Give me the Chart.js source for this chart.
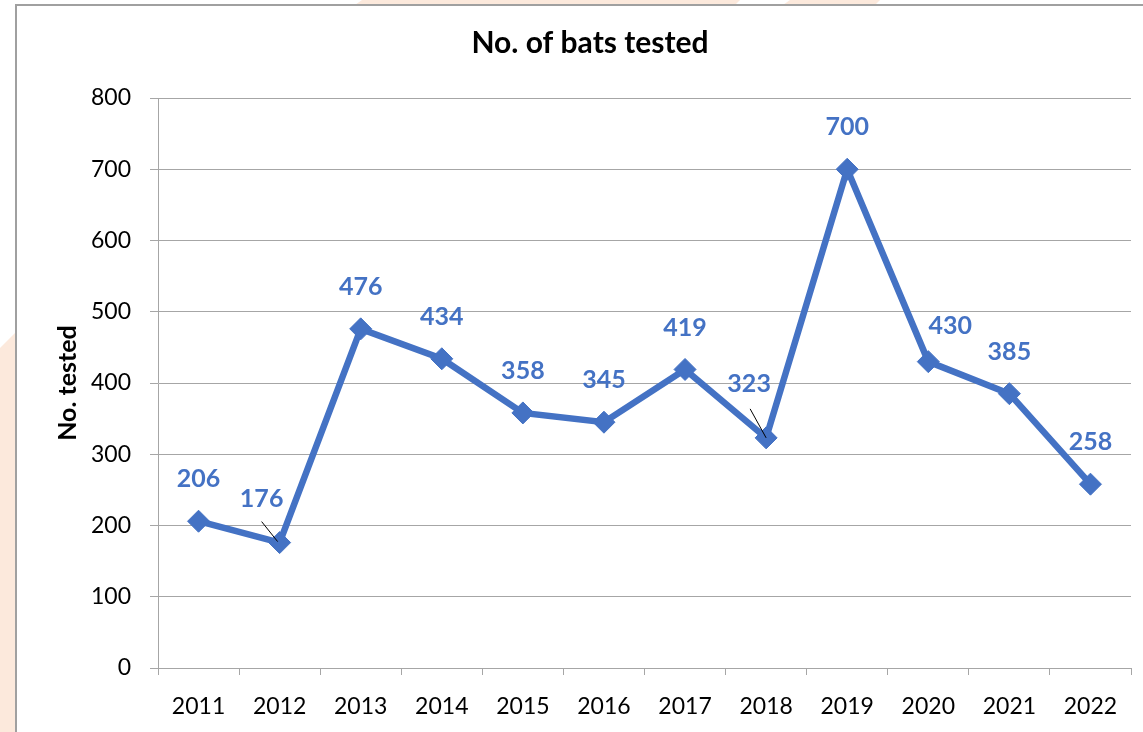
<!DOCTYPE html>
<html>
<head>
<meta charset="utf-8">
<script src="https://cdn.jsdelivr.net/npm/chart.js@4"></script>
<style>
  html, body { margin: 0; padding: 0; background: #ffffff; }
  #wrap { width: 1143px; height: 732px; position: relative; }
</style>
</head>
<body>
<div id="wrap"><canvas id="c" width="1143" height="732"></canvas></div>
<script>
// ---- data ----
const years = ['2011','2012','2013','2014','2015','2016','2017','2018','2019','2020','2021','2022'];
const batsTested = [206, 176, 476, 434, 358, 345, 419, 323, 700, 430, 385, 258];
const yTicks = [0, 100, 200, 300, 400, 500, 600, 700, 800];
const chartTitle = 'No. of bats tested';
const yAxisTitle = 'No. tested';

// ---- styling ----
const BLUE = '#4472C4';
const GRID = '#A6A6A6';
const FONT = 'Lato, "Open Sans", sans-serif';
// label offsets (dx, dy) relative to point, and optional leader lines
const labelOffsetDefault = [0, -42];
const labelOffsetSpecial = { 1: [-18, -44], 7: [-17, -54], 9: [22, -36] };
const leaderSpecial = { 1: [[-18, -21], [-2, -1]], 7: [[-16, -29], [0, 0]] };

const bgPlugin = {
  id: 'bg',
  beforeDraw(chart) {
    const ctx = chart.ctx;
    ctx.save();
    ctx.fillStyle = '#ffffff';
    ctx.fillRect(0, 0, chart.width, chart.height);
    // peach decorative shapes outside the frame
    ctx.fillStyle = '#FCE9DC';
    ctx.beginPath();
    ctx.moveTo(362, 0); ctx.lineTo(740, 0); ctx.lineTo(735, 5); ctx.lineTo(355, 5); ctx.closePath();
    ctx.fill();
    ctx.beginPath();
    ctx.moveTo(790, 0); ctx.lineTo(880, 0); ctx.lineTo(875, 5); ctx.lineTo(783, 5); ctx.closePath();
    ctx.fill();
    ctx.beginPath();
    ctx.moveTo(0, 348); ctx.lineTo(15, 333); ctx.lineTo(15, 732); ctx.lineTo(0, 732); ctx.closePath();
    ctx.fill();
    // frame
    ctx.strokeStyle = '#A0A0A0';
    ctx.lineWidth = 2;
    ctx.beginPath();
    ctx.moveTo(16, 740); ctx.lineTo(16, 5); ctx.lineTo(1150, 5);
    ctx.stroke();
    // title
    ctx.fillStyle = '#000000';
    ctx.font = 'bold 30px ' + FONT;
    ctx.textAlign = 'center';
    ctx.textBaseline = 'middle';
    ctx.fillText(chartTitle, 590, 43);
    ctx.restore();
  },
  afterDatasetsDraw(chart) {
    const ctx = chart.ctx;
    const meta = chart.getDatasetMeta(0);
    ctx.save();
    meta.data.forEach((pt, i) => {
      const lead = leaderSpecial[i];
      if (lead) {
        ctx.strokeStyle = '#000000';
        ctx.lineWidth = 1;
        ctx.beginPath();
        ctx.moveTo(pt.x + lead[0][0], pt.y + lead[0][1]);
        ctx.lineTo(pt.x + lead[1][0], pt.y + lead[1][1]);
        ctx.stroke();
      }
    });
    ctx.fillStyle = BLUE;
    ctx.font = 'bold 25px ' + FONT;
    ctx.textAlign = 'center';
    ctx.textBaseline = 'middle';
    meta.data.forEach((pt, i) => {
      const off = labelOffsetSpecial[i] || labelOffsetDefault;
      ctx.fillText(String(batsTested[i]), pt.x + off[0], pt.y + off[1]);
    });
    ctx.restore();
  }
};

new Chart(document.getElementById('c'), {
  type: 'line',
  data: {
    labels: years,
    datasets: [{
      data: batsTested,
      borderColor: BLUE,
      backgroundColor: BLUE,
      borderWidth: 6.5,
      pointStyle: 'rectRot',
      pointRadius: 11,
      pointHoverRadius: 11,
      pointBackgroundColor: BLUE,
      pointBorderColor: BLUE,
      pointBorderWidth: 1,
      tension: 0,
      fill: false
    }]
  },
  options: {
    responsive: false,
    animation: false,
    layout: { padding: { left: 0, top: 98, right: 9, bottom: 0 } },
    plugins: {
      legend: { display: false },
      title: { display: false },
      tooltip: { enabled: false }
    },
    scales: {
      x: {
        type: 'category',
        offset: true,
        afterFit(scale) { scale.height = 64; },
        grid: {
          display: true,
          offset: true,
          drawOnChartArea: false,
          drawTicks: true,
          tickLength: 7,
          color: GRID,
          lineWidth: 1
        },
        border: { display: true, color: GRID, width: 1 },
        ticks: {
          color: '#000000',
          font: { family: FONT, size: 23 },
          padding: 18,
          maxRotation: 0,
          autoSkip: false
        }
      },
      y: {
        min: 0,
        max: 800,
        afterFit(scale) { scale.width = 158; },
        afterBuildTicks(scale) { scale.ticks = yTicks.map(v => ({ value: v })); },
        grid: {
          color: GRID,
          lineWidth: 1,
          drawTicks: true,
          tickLength: 8
        },
        border: { display: true, color: GRID, width: 1 },
        ticks: {
          color: '#000000',
          font: { family: FONT, size: 23 },
          padding: 19
        },
        title: {
          display: true,
          text: yAxisTitle,
          color: '#000000',
          font: { family: FONT, size: 25, weight: 'bold' },
          padding: { top: 53, bottom: 0 }
        }
      }
    }
  },
  plugins: [bgPlugin]
});
</script>
</body>
</html>
